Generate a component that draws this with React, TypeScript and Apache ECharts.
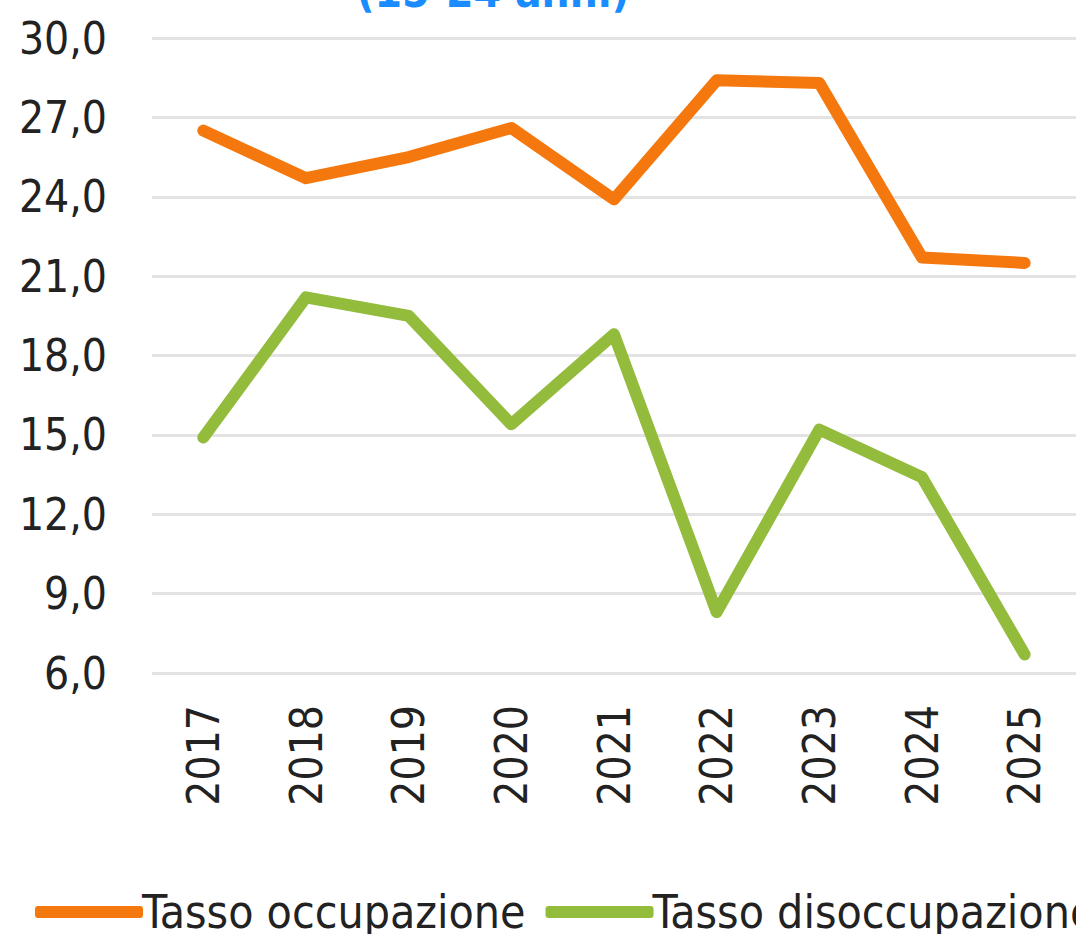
import React, { useEffect, useRef } from "react";
import * as echarts from "echarts";

const years = ["2017", "2018", "2019", "2020", "2021", "2022", "2023", "2024", "2025"];
const occupazione = [26.5, 24.7, 25.5, 26.6, 23.9, 28.4, 28.3, 21.7, 21.5];
const disoccupazione = [14.9, 20.2, 19.5, 15.4, 18.8, 8.3, 15.2, 13.4, 6.7];
const seriesNames = ["Tasso occupazione", "Tasso disoccupazione"];
const titleText = "(15-24 anni)";

const FONT = "'DejaVu Sans Condensed', 'DejaVu Sans', sans-serif";

export default function App() {
  const ref = useRef<HTMLDivElement>(null);
  useEffect(() => {
    if (!ref.current) return;
    const chart = echarts.init(ref.current, null, { renderer: "svg" });
    chart.setOption({
      animation: false,
      backgroundColor: "#ffffff",
      graphic: [
        {
          type: "text",
          x: 493,
          y: 13,
          style: {
            text: titleText,
            font: `bold 44px ${FONT}`,
            fill: "#1a8cff",
            textAlign: "center",
            textVerticalAlign: "bottom",
          },
        },
      ],
      legend: {
        left: 30,
        top: 884,
        width: 1600,
        itemWidth: 108,
        itemHeight: 12,
        itemGap: 20,
        icon: "roundRect",
        textStyle: {
          fontFamily: FONT,
          fontSize: 46,
          color: "#222222",
          padding: [0, 0, 12, -6],
        },
        data: seriesNames,
      },
      grid: { left: 152, right: -8, top: 38, bottom: 261 },
      xAxis: {
        type: "category",
        data: years,
        boundaryGap: true,
        axisLine: { show: false },
        axisTick: { show: false },
        axisLabel: {
          rotate: 90,
          margin: 32,
          fontFamily: FONT,
          fontSize: 44,
          color: "#222222",
        },
      },
      yAxis: {
        type: "value",
        min: 6,
        max: 30,
        interval: 3,
        axisLine: { show: false },
        axisTick: { show: false },
        splitLine: { lineStyle: { color: "#e3e3e3", width: 3 } },
        axisLabel: {
          margin: 45,
          fontFamily: FONT,
          fontSize: 44,
          color: "#222222",
          formatter: (v: number) => v.toFixed(1).replace(".", ","),
        },
      },
      series: [
        {
          name: seriesNames[0],
          type: "line",
          data: occupazione,
          symbol: "none",
          color: "#f5780f",
          lineStyle: { width: 12, color: "#f5780f", cap: "round", join: "round" },
        },
        {
          name: seriesNames[1],
          type: "line",
          data: disoccupazione,
          symbol: "none",
          color: "#93bb3c",
          lineStyle: { width: 12, color: "#93bb3c", cap: "round", join: "round" },
        },
      ],
    });
    return () => chart.dispose();
  }, []);
  return (
    <div
      ref={ref}
      style={{ position: "absolute", left: 0, top: 0, width: 1076, height: 934, overflow: "hidden" }}
    />
  );
}
